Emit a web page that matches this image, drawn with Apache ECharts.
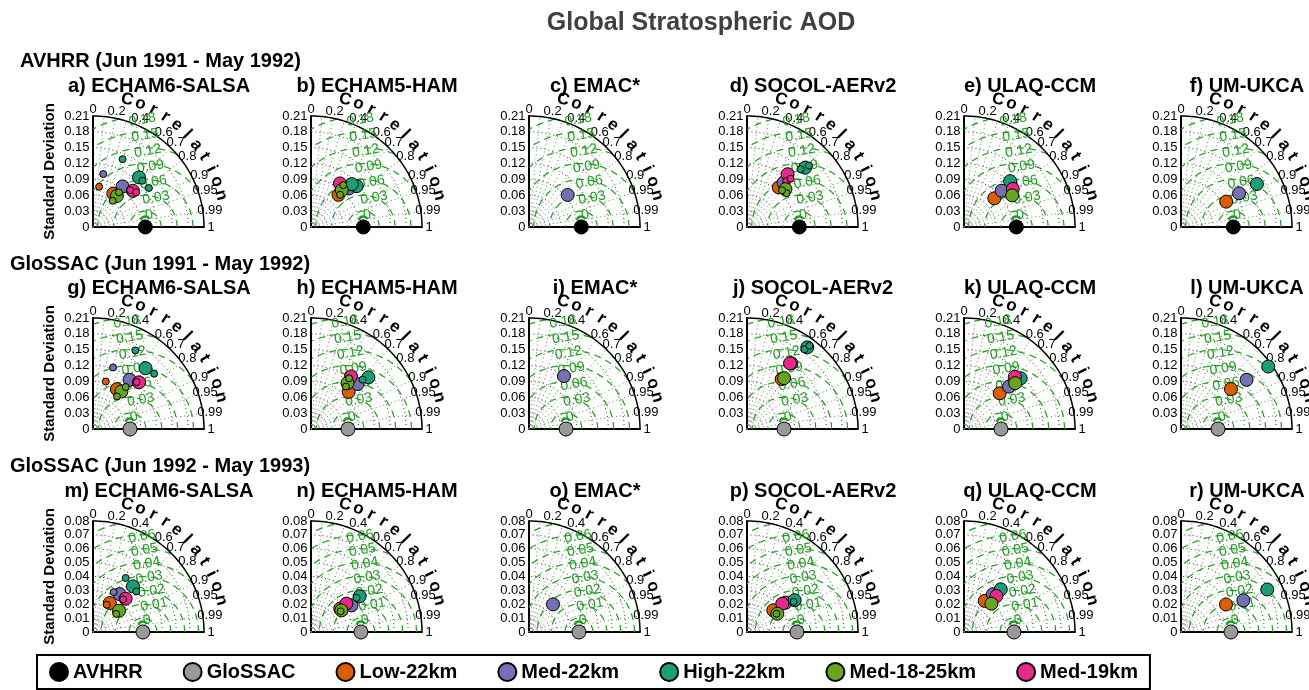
<!DOCTYPE html>
<html>
<head>
<meta charset="utf-8">
<title>Global Stratospheric AOD</title>
<script src="https://cdn.jsdelivr.net/npm/echarts@6/dist/echarts.min.js"></script>
<style>
    html, body { margin: 0; padding: 0; background: #fff; }
    #chart { width: 1309px; height: 690px; }
</style>
</head>
<body>
<div id="chart"></div>
<script>
var panelA = [
    ['Low-22km', 0.074, 0.52, 'L'], ['Low-22km', 0.077, 0.15, 'S'],
    ['Med-22km', 0.095, 0.59, 'L'], ['Med-22km', 0.102, 0.19, 'S'],
    ['High-22km', 0.128, 0.68, 'L'], ['High-22km', 0.128, 0.73, 'S'], ['High-22km', 0.129, 0.82, 'S'], ['High-22km', 0.140, 0.40, 'S'],
    ['Med-18-25km', 0.074, 0.61, 'L'], ['Med-18-25km', 0.062, 0.60, 'S'], ['Med-18-25km', 0.082, 0.60, 'S'],
    ['Med-19km', 0.102, 0.74, 'L'], ['Med-19km', 0.099, 0.71, 'S'], ['Med-19km', 0.105, 0.78, 'S']
];
var panelB = [
    ['Low-22km', 0.080, 0.65, 'L'],
    ['Med-22km', 0.102, 0.70, 'L'],
    ['High-22km', 0.116, 0.745, 'L'], ['High-22km', 0.112, 0.69, 'L'],
    ['Med-18-25km', 0.091, 0.64, 'L'], ['Med-18-25km', 0.082, 0.67, 'S'], ['Med-18-25km', 0.100, 0.61, 'S'],
    ['Med-19km', 0.099, 0.553, 'L']
];
var panelC = [
    ['Med-22km', 0.095, 0.77, 'L']
];
var panelD = [
    ['Low-22km', 0.096, 0.626, 'L'],
    ['Med-22km', 0.109, 0.636, 'L'],
    ['High-22km', 0.157, 0.70, 'L'], ['High-22km', 0.149, 0.68, 'S'], ['High-22km', 0.165, 0.71, 'S'],
    ['Med-18-25km', 0.102, 0.713, 'L'], ['Med-18-25km', 0.0985, 0.76, 'S'], ['Med-18-25km', 0.096, 0.69, 'S'],
    ['Med-19km', 0.126, 0.61, 'L'], ['Med-19km', 0.114, 0.65, 'S'], ['Med-19km', 0.123, 0.67, 'S']
];
var panelE = [
    ['Low-22km', 0.079, 0.727, 'L'],
    ['Med-22km', 0.099, 0.72, 'L'],
    ['High-22km', 0.123, 0.709, 'L'],
    ['Med-18-25km', 0.109, 0.836, 'L'],
    ['Med-19km', 0.117, 0.788, 'L']
];
var panelF = [
    ['Low-22km', 0.098, 0.872, 'L'],
    ['Med-22km', 0.127, 0.865, 'L'],
    ['High-22km', 0.165, 0.87, 'L']
];
var panelG = [
    ['Low-22km', 0.088, 0.515, 'L'], ['Low-22km', 0.093, 0.26, 'S'],
    ['Med-22km', 0.116, 0.597, 'L'], ['Med-22km', 0.1225, 0.31, 'S'],
    ['High-22km', 0.152, 0.654, 'L'], ['High-22km', 0.156, 0.741, 'S'], ['High-22km', 0.169, 0.475, 'S'],
    ['Med-18-25km', 0.089, 0.603, 'L'], ['Med-18-25km', 0.1006, 0.614, 'S'], ['Med-18-25km', 0.0765, 0.593, 'S'],
    ['Med-19km', 0.124, 0.702, 'L'], ['Med-19km', 0.121, 0.68, 'S']
];
var panelH = [
    ['Low-22km', 0.100, 0.712, 'L'],
    ['Med-22km', 0.1225, 0.72, 'L'],
    ['High-22km', 0.146, 0.743, 'L'], ['High-22km', 0.135, 0.723, 'S'],
    ['Med-18-25km', 0.111, 0.622, 'L'], ['Med-18-25km', 0.120, 0.60, 'S'], ['Med-18-25km', 0.104, 0.635, 'S'],
    ['Med-19km', 0.125, 0.605, 'L']
];
var panelI = [
    ['Med-22km', 0.120, 0.551, 'L']
];
var panelJ = [
    ['Low-22km', 0.115, 0.57, 'L'],
    ['Med-22km', 0.150, 0.56, 'L'],
    ['High-22km', 0.192, 0.594, 'L'], ['High-22km', 0.186, 0.585, 'S'], ['High-22km', 0.197, 0.60, 'S'],
    ['Med-18-25km', 0.119, 0.589, 'L'],
    ['Med-19km', 0.1485, 0.548, 'L']
];
var panelK = [
    ['Low-22km', 0.0955, 0.707, 'L'],
    ['Med-22km', 0.117, 0.728, 'L'],
    ['High-22km', 0.144, 0.745, 'L'],
    ['Med-18-25km', 0.130, 0.745, 'L'],
    ['Med-19km', 0.138, 0.698, 'L']
];
var panelL = [
    ['Low-22km', 0.121, 0.781, 'L'],
    ['Med-22km', 0.155, 0.80, 'L'],
    ['High-22km', 0.203, 0.813, 'L']
];
var panelM = [
    ['Low-22km', 0.0241, 0.50, 'L'], ['Low-22km', 0.022, 0.45, 'S'],
    ['Med-22km', 0.0334, 0.575, 'L'], ['Med-22km', 0.0324, 0.46, 'S'],
    ['High-22km', 0.0437, 0.659, 'L'], ['High-22km', 0.0455, 0.518, 'S'], ['High-22km', 0.0428, 0.73, 'S'],
    ['Med-18-25km', 0.0242, 0.774, 'L'], ['Med-18-25km', 0.0212, 0.79, 'S'],
    ['Med-19km', 0.0336, 0.70, 'L'], ['Med-19km', 0.032, 0.68, 'S']
];
var panelN = [
    ['Low-22km', 0.027, 0.78, 'L'],
    ['Med-22km', 0.0349, 0.835, 'L'],
    ['High-22km', 0.0435, 0.806, 'L'], ['High-22km', 0.041, 0.80, 'S'],
    ['Med-18-25km', 0.0269, 0.815, 'L'], ['Med-18-25km', 0.026, 0.82, 'S'],
    ['Med-19km', 0.0327, 0.78, 'L']
];
var panelO = [
    ['Med-22km', 0.0264, 0.656, 'L']
];
var panelP = [
    ['Low-22km', 0.0246, 0.771, 'L'],
    ['Med-22km', 0.035, 0.796, 'L'],
    ['High-22km', 0.0413, 0.832, 'L'], ['High-22km', 0.040, 0.84, 'S'],
    ['Med-18-25km', 0.0255, 0.856, 'L'], ['Med-18-25km', 0.025, 0.85, 'S'],
    ['Med-19km', 0.0326, 0.78, 'L']
];
var panelQ = [
    ['Low-22km', 0.0269, 0.555, 'L'],
    ['Med-22km', 0.0343, 0.609, 'L'],
    ['High-22km', 0.0406, 0.652, 'L'],
    ['Med-18-25km', 0.0284, 0.695, 'L'],
    ['Med-19km', 0.0349, 0.669, 'L']
];
var panelR = [
    ['Low-22km', 0.038, 0.853, 'L'],
    ['Med-22km', 0.0504, 0.892, 'L'],
    ['High-22km', 0.0693, 0.897, 'L']
];
var panels = [panelA, panelB, panelC, panelD, panelE, panelF,
              panelG, panelH, panelI, panelJ, panelK, panelL,
              panelM, panelN, panelO, panelP, panelQ, panelR];

var panelTitles = ['a) ECHAM6-SALSA', 'b) ECHAM5-HAM', 'c) EMAC*', 'd) SOCOL-AERv2', 'e) ULAQ-CCM', 'f) UM-UKCA',
                   'g) ECHAM6-SALSA', 'h) ECHAM5-HAM', 'i) EMAC*', 'j) SOCOL-AERv2', 'k) ULAQ-CCM', 'l) UM-UKCA',
                   'm) ECHAM6-SALSA', 'n) ECHAM5-HAM', 'o) EMAC*', 'p) SOCOL-AERv2', 'q) ULAQ-CCM', 'r) UM-UKCA'];
var rowTitles = ['AVHRR (Jun 1991 - May 1992)', 'GloSSAC (Jun 1991 - May 1992)', 'GloSSAC (Jun 1992 - May 1993)'];

// reference (observation) per row
var refName = ['AVHRR', 'GloSSAC', 'GloSSAC'];
var refStd = [0.099, 0.070, 0.036];

// axis ranges, tick labels and contour levels per row
var rowMax = [0.21, 0.21, 0.08];
var rowStep = [0.03, 0.03, 0.01];
var stdTicks = [
    ['0', '0.03', '0.06', '0.09', '0.12', '0.15', '0.18', '0.21'],
    ['0', '0.03', '0.06', '0.09', '0.12', '0.15', '0.18', '0.21'],
    ['0', '0.01', '0.02', '0.03', '0.04', '0.05', '0.06', '0.07', '0.08']
];
var rmsLevels = [
    [0.03, 0.06, 0.09, 0.12, 0.15, 0.18, 0.21],
    [0.03, 0.06, 0.09, 0.12, 0.15, 0.18, 0.21],
    [0.01, 0.02, 0.03, 0.04, 0.05, 0.06, 0.07, 0.08]
];
var rmsLabels = [
    [0, 0.03, 0.06, 0.09, 0.12, 0.15, 0.18],
    [0, 0.03, 0.06, 0.09, 0.12, 0.15, 0.18],
    [0, 0.01, 0.02, 0.03, 0.04, 0.05, 0.06]
];
var corrLines = [0.1, 0.2, 0.3, 0.4, 0.5, 0.6, 0.7, 0.8, 0.9, 0.95, 0.99];
var corrLabels = [0, 0.2, 0.4, 0.6, 0.7, 0.8, 0.9, 0.95, 0.99, 1];

var legendNames = ['AVHRR', 'GloSSAC', 'Low-22km', 'Med-22km', 'High-22km', 'Med-18-25km', 'Med-19km'];
var drawOrder = ['Low-22km', 'Med-22km', 'High-22km', 'Med-19km', 'Med-18-25km'];
var colors = {
    'AVHRR': '#000000', 'GloSSAC': '#999999',
    'Low-22km': '#d95f02', 'Med-22km': '#7570b3', 'High-22km': '#1b9e77',
    'Med-18-25km': '#66a61e', 'Med-19km': '#e7298a'
};

// ---- layout ----
var FONT = '"Liberation Sans", Arial, Helvetica, sans-serif';
var R = 111;
var colLeft = [93, 311, 529, 747, 964, 1181];
var rowBase = [227, 429, 632];
var GREEN = '#1f9e1f';
var SMALL = 13;

function xy(std, corr) {
    return [std * corr, std * Math.sqrt(Math.max(0, 1 - corr * corr))];
}

var option = {
    animation: false,
    backgroundColor: '#fff',
    textStyle: { fontFamily: FONT },
    grid: [], xAxis: [], yAxis: [], series: [],
    legend: {
        data: legendNames,
        left: 37, top: 655,
        icon: 'circle', itemWidth: 18, itemHeight: 18, itemGap: 40,
        padding: [7, 12, 7, 12],
        borderColor: '#000', borderWidth: 2,
        textStyle: { fontFamily: FONT, fontSize: 20, fontWeight: 'bold', color: '#000' },
        selectedMode: false
    },
    graphic: []
};

option.graphic.push({ type: 'text', x: 701, y: 23, style: {
    text: 'Global Stratospheric AOD', fill: '#404040', align: 'center', verticalAlign: 'middle',
    font: 'bold 25px ' + FONT } });
var rowTitleX = [20, 10, 10], rowTitleY = [61, 264, 466];
rowTitles.forEach(function (t, r) {
    option.graphic.push({ type: 'text', x: rowTitleX[r], y: rowTitleY[r], style: {
        text: t, fill: '#000', align: 'left', verticalAlign: 'middle', font: 'bold 20px ' + FONT } });
});

for (var i = 0; i < 18; i++) {
    var row = Math.floor(i / 6), col = i % 6;
    var max = rowMax[row], u = max / R;   // data units per pixel
    var ref = refStd[row];

    option.graphic.push({ type: 'text', x: colLeft[col] + 66, y: rowBase[row] - 141, style: {
        text: panelTitles[i], fill: '#000', align: 'center', verticalAlign: 'middle', font: 'bold 20px ' + FONT } });

    option.grid.push({ left: colLeft[col], top: rowBase[row] - R, width: R, height: R });
    option.xAxis.push({
        gridIndex: i, type: 'value', min: 0, max: max,
        axisLine: { lineStyle: { color: '#000', width: 2 } },
        axisTick: { show: false }, axisLabel: { show: false }, splitLine: { show: false }
    });
    option.yAxis.push({
        gridIndex: i, type: 'value', min: 0, max: max, interval: rowStep[row],
        axisLine: { show: true, lineStyle: { color: '#000', width: 2 } },
        axisTick: { show: false }, splitLine: { show: false }, axisLabel: { show: false },
        name: col === 0 ? 'Standard Deviation' : '', nameLocation: 'middle', nameGap: 36,
        nameTextStyle: { fontFamily: FONT, fontSize: 15, fontWeight: 'bold', color: '#000' }
    });

    var grid = { xAxisIndex: i, yAxisIndex: i };
    var lines = [];
    // std arcs
    for (var s = rowStep[row]; s < max - 1e-9; s += rowStep[row]) {
        var arc = [];
        for (var a = 0; a <= 90; a += 2) arc.push([s * Math.cos(a * Math.PI / 180), s * Math.sin(a * Math.PI / 180)]);
        lines.push({ coords: arc, lineStyle: { color: '#333', width: 1, type: [1, 3] } });
    }
    // correlation rays
    corrLines.forEach(function (c) {
        lines.push({ coords: [[0, 0], xy(max, c)], lineStyle: { color: '#777', width: 1, type: [1, 3] } });
    });
    // RMS difference circles around the reference, kept inside the quarter disk
    rmsLevels[row].forEach(function (r) {
        var seg = [];
        for (var a = 0; a <= 180; a += 1) {
            var px = ref + r * Math.cos(a * Math.PI / 180), py = r * Math.sin(a * Math.PI / 180);
            if (px >= 0 && px * px + py * py <= max * max) {
                seg.push([px, py]);
            } else if (seg.length) {
                if (seg.length > 1) lines.push({ coords: seg, lineStyle: { color: GREEN, width: 1.2, type: [7, 5] } });
                seg = [];
            }
        }
        if (seg.length > 1) lines.push({ coords: seg, lineStyle: { color: GREEN, width: 1.2, type: [7, 5] } });
    });
    // outer arc
    var outer = [];
    for (var a2 = 0; a2 <= 90; a2 += 1) outer.push([max * Math.cos(a2 * Math.PI / 180), max * Math.sin(a2 * Math.PI / 180)]);
    lines.push({ coords: outer, lineStyle: { color: '#000', width: 1.5, type: 'solid' } });

    option.series.push(Object.assign({
        type: 'lines', coordinateSystem: 'cartesian2d', polyline: true, silent: true, clip: false,
        lineStyle: { opacity: 1 }, data: lines, z: 1
    }, grid));

    // standard deviation tick labels along the left axis
    option.series.push(Object.assign({
        type: 'scatter', silent: true, clip: false, symbolSize: 1, itemStyle: { color: 'rgba(0,0,0,0)', opacity: 1 }, z: 3,
        data: stdTicks[row].map(function (t) { return [0, parseFloat(t), t]; }),
        label: { show: true, position: 'left', distance: 3, color: '#000', fontSize: SMALL, fontFamily: FONT,
            formatter: function (p) { return p.value[2]; } }
    }, grid));

    // correlation labels, 7px outside the arc
    option.series.push(Object.assign({
        type: 'scatter', silent: true, clip: false, symbolSize: 1, itemStyle: { color: 'rgba(0,0,0,0)', opacity: 1 }, z: 3,
        data: corrLabels.map(function (c) { var p = xy(max + 7 * u, c); return [p[0], p[1], String(c)]; }),
        label: { show: true, position: 'inside', color: '#000', fontSize: SMALL, fontFamily: FONT,
            formatter: function (p) { return p.value[2]; } }
    }, grid));

    // curved "Correlation" title
    var word = 'Correlation'.split('');
    option.series.push(Object.assign({
        type: 'scatter', silent: true, clip: false, symbolSize: 1, itemStyle: { color: 'rgba(0,0,0,0)', opacity: 1 }, z: 3,
        data: word.map(function (ch, k) {
            var ang = 75 - k * (75 - 14) / (word.length - 1);
            var rad = max + 21 * u;
            return { value: [rad * Math.cos(ang * Math.PI / 180), rad * Math.sin(ang * Math.PI / 180)],
                label: { formatter: ch, rotate: ang - 90 } };
        }),
        label: { show: true, position: 'inside', color: '#000', fontSize: 17, fontWeight: 'bold', fontFamily: FONT }
    }, grid));

    // RMS labels
    option.series.push(Object.assign({
        type: 'scatter', silent: true, clip: false, symbolSize: 1, itemStyle: { color: 'rgba(0,0,0,0)', opacity: 1 }, z: 3,
        data: rmsLabels[row].map(function (r) {
            var a = 100 * Math.PI / 180;
            return [ref + r * Math.cos(a), r * Math.sin(a), String(r)];
        }),
        label: { show: true, position: 'inside', align: 'left', verticalAlign: 'middle', offset: [2, -11], rotate: 10,
            color: GREEN, fontSize: 14, fontFamily: FONT, formatter: function (p) { return p.value[2]; } }
    }, grid));

    // zero contour blob
    option.series.push(Object.assign({
        type: 'scatter', silent: true, clip: false, symbol: 'circle', symbolSize: 9, symbolOffset: [0, -6],
        itemStyle: { color: 'rgba(0,0,0,0)', borderColor: GREEN, borderWidth: 2.5, borderType: 'dashed', opacity: 1 }, z: 4,
        data: [[ref, 0]]
    }, grid));

    // reference observation
    option.series.push(Object.assign({
        type: 'scatter', name: refName[row], silent: true, clip: false, symbolSize: 14,
        itemStyle: { color: colors[refName[row]], borderColor: '#000', borderWidth: 1, opacity: 1 }, z: 6,
        data: [[ref, 0]]
    }, grid));

    // model experiments
    var pts = panels[i];
    drawOrder.forEach(function (name) {
        var d = pts.filter(function (p) { return p[0] === name; });
        if (!d.length) return;
        option.series.push(Object.assign({
            type: 'scatter', name: name, silent: true, clip: false, z: 5,
            itemStyle: { color: colors[name], borderColor: '#000', borderWidth: 1, opacity: 1 },
            data: d.map(function (p) { return { value: xy(p[1], p[2]), symbolSize: p[3] === 'L' ? 13 : 7 }; })
        }, grid));
    });
}

var chart = echarts.init(document.getElementById('chart'), null, { renderer: 'canvas' });
chart.setOption(option);
</script>
</body>
</html>
